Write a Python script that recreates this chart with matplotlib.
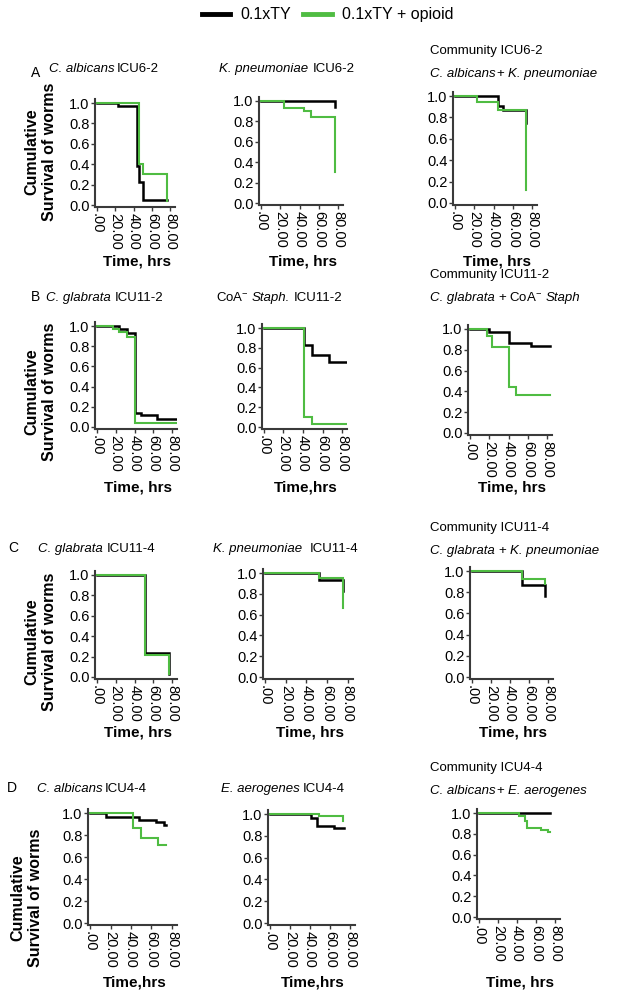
import matplotlib
matplotlib.use('Agg')
import matplotlib.pyplot as plt
from matplotlib.lines import Line2D

plt.rcParams['font.family'] = ['Liberation Sans', 'DejaVu Sans']
plt.rcParams['mathtext.fontset'] = 'custom'
plt.rcParams['mathtext.rm'] = 'Liberation Sans'
plt.rcParams['mathtext.it'] = 'Liberation Sans:italic'

# survival curves (time in hrs, cumulative survival), ctl = 0.1xTY, opi = 0.1xTY + opioid
a1_ctl_t = [0, 23, 44, 46, 50, 76]
a1_ctl_s = [1.0, 0.97, 0.38, 0.23, 0.05, 0.05]
a1_opi_t = [0, 46, 50, 76]
a1_opi_s = [1.0, 0.40, 0.30, 0.04]

a2_ctl_t = [0, 77]
a2_ctl_s = [1.0, 0.94]
a2_opi_t = [0, 24, 45, 52, 77]
a2_opi_s = [1.0, 0.93, 0.90, 0.84, 0.30]

a3_ctl_t = [0, 45, 50, 74]
a3_ctl_s = [1.0, 0.91, 0.87, 0.75]
a3_opi_t = [0, 23, 45, 74]
a3_opi_s = [1.0, 0.94, 0.87, 0.12]

b1_ctl_t = [0, 23, 32, 40, 47, 64, 84]
b1_ctl_s = [1.0, 0.97, 0.93, 0.14, 0.12, 0.08, 0.08]
b1_opi_t = [0, 17, 23, 32, 40, 84]
b1_opi_s = [1.0, 0.97, 0.94, 0.89, 0.04, 0.04]

b2_ctl_t = [0, 41, 49, 67, 85]
b2_ctl_s = [1.0, 0.83, 0.73, 0.66, 0.66]
b2_opi_t = [0, 41, 49, 85]
b2_opi_s = [1.0, 0.10, 0.03, 0.03]

b3_ctl_t = [0, 20, 40, 63, 83]
b3_ctl_s = [1.0, 0.97, 0.87, 0.84, 0.84]
b3_opi_t = [0, 18, 23, 40, 48, 83]
b3_opi_s = [1.0, 0.93, 0.83, 0.44, 0.37, 0.37]

c1_ctl_t = [0, 51, 77]
c1_ctl_s = [1.0, 0.24, 0.03]
c1_opi_t = [0, 51, 77]
c1_opi_s = [1.0, 0.22, 0.03]

c2_ctl_t = [0, 52, 75]
c2_ctl_s = [1.0, 0.93, 0.83]
c2_opi_t = [0, 52, 75]
c2_opi_s = [1.0, 0.95, 0.66]

c3_ctl_t = [0, 52, 77]
c3_ctl_s = [1.0, 0.87, 0.76]
c3_opi_t = [0, 52, 77]
c3_opi_s = [1.0, 0.92, 0.88]

d1_ctl_t = [0, 16, 48, 64, 72, 74]
d1_ctl_s = [1.0, 0.96, 0.94, 0.92, 0.89, 0.89]
d1_opi_t = [0, 42, 50, 66, 74]
d1_opi_s = [1.0, 0.86, 0.77, 0.71, 0.71]

d2_ctl_t = [0, 41, 47, 64, 74]
d2_ctl_s = [1.0, 0.96, 0.89, 0.87, 0.87]
d2_opi_t = [0, 49, 73]
d2_opi_s = [1.0, 0.98, 0.94]

d3_ctl_t = [0, 74]
d3_ctl_s = [1.0, 1.0]
d3_opi_t = [0, 42, 48, 50, 65, 72, 74]
d3_opi_s = [1.0, 0.97, 0.92, 0.86, 0.84, 0.82, 0.82]

x_ticks = [0, 20, 40, 60, 80]
x_ticklabels = ['.00', '20.00', '40.00', '60.00', '80.00']
y_ticks = [0.0, 0.2, 0.4, 0.6, 0.8, 1.0]
y_ticklabels = ['0.0', '0.2', '0.4', '0.6', '0.8', '1.0']
series_names = ['0.1xTY', '0.1xTY + opioid']

# title pieces: (text, style, gap after in spaces); a list per line
I, N = 'italic', 'normal'
titles = {
    'a1': [[('C. albicans', I, 0.6), ('ICU6-2', N, 0)]],
    'a2': [[('K. pneumoniae', I, 1.3), ('ICU6-2', N, 0)]],
    'a3': [[('Community ICU6-2', N, 0)],
           [('C. albicans', I, 0.3), ('+', N, 1), ('K. pneumoniae', I, 0)]],
    'b1': [[('C. glabrata', I, 1.1), ('ICU11-2', N, 0)]],
    'b2': [[('CoA$^{-}$', N, 0.8), ('Staph.', I, 1.1), ('ICU11-2', N, 0)]],
    'b3': [[('Community ICU11-2', N, 0)],
           [('C. glabrata', I, 1.0), ('+ CoA$^{-}$', N, 0.8), ('Staph', I, 0)]],
    'c1': [[('C. glabrata', I, 1.1), ('ICU11-4', N, 0)]],
    'c2': [[('K. pneumoniae', I, 2.0), ('ICU11-4', N, 0)]],
    'c3': [[('Community ICU11-4', N, 0)],
           [('C. glabrata', I, 1.0), ('+', N, 1), ('K. pneumoniae', I, 0)]],
    'd1': [[('C. albicans', I, 0.6), ('ICU4-4', N, 0)]],
    'd2': [[('E. aerogenes', I, 0.9), ('ICU4-4', N, 0)]],
    'd3': [[('Community ICU4-4', N, 0)],
           [('C. albicans', I, 0.3), ('+', N, 1), ('E. aerogenes', I, 0)]],
}
xlabels = {'a1': 'Time, hrs', 'a2': 'Time, hrs', 'a3': 'Time, hrs',
           'b1': 'Time, hrs', 'b2': 'Time,hrs', 'b3': 'Time, hrs',
           'c1': 'Time, hrs', 'c2': 'Time, hrs', 'c3': 'Time, hrs',
           'd1': 'Time,hrs', 'd2': 'Time,hrs', 'd3': 'Time, hrs'}

data = {
    'a1': (a1_ctl_t, a1_ctl_s, a1_opi_t, a1_opi_s),
    'a2': (a2_ctl_t, a2_ctl_s, a2_opi_t, a2_opi_s),
    'a3': (a3_ctl_t, a3_ctl_s, a3_opi_t, a3_opi_s),
    'b1': (b1_ctl_t, b1_ctl_s, b1_opi_t, b1_opi_s),
    'b2': (b2_ctl_t, b2_ctl_s, b2_opi_t, b2_opi_s),
    'b3': (b3_ctl_t, b3_ctl_s, b3_opi_t, b3_opi_s),
    'c1': (c1_ctl_t, c1_ctl_s, c1_opi_t, c1_opi_s),
    'c2': (c2_ctl_t, c2_ctl_s, c2_opi_t, c2_opi_s),
    'c3': (c3_ctl_t, c3_ctl_s, c3_opi_t, c3_opi_s),
    'd1': (d1_ctl_t, d1_ctl_s, d1_opi_t, d1_opi_s),
    'd2': (d2_ctl_t, d2_ctl_s, d2_opi_t, d2_opi_s),
    'd3': (d3_ctl_t, d3_ctl_s, d3_opi_t, d3_opi_s),
}

# layout in pixels: left, right, y of 1.0, y of 0.0
W, H = 637, 996
boxes = {
    'a1': (95, 175, 103, 205), 'a2': (259, 343, 101, 203), 'a3': (453, 537, 96, 203),
    'b1': (95, 177, 326, 427), 'b2': (262, 347, 328, 427), 'b3': (468, 552, 329, 433),
    'c1': (95, 177, 575, 677), 'c2': (263, 353, 573, 677), 'c3': (470, 553, 571, 677),
    'd1': (88, 177, 813, 923), 'd2': (268, 355, 814, 923), 'd3': (477, 560, 813, 917),
}
# title: (x, y of first line, ha)
title_pos = {
    'a1': (104, 68, 'center'), 'a2': (287, 68, 'center'), 'a3': (430, 50, 'left'),
    'b1': (105, 297, 'center'), 'b2': (279, 297, 'center'), 'b3': (430, 274, 'left'),
    'c1': (97, 548, 'center'), 'c2': (286, 548, 'center'), 'c3': (430, 527, 'left'),
    'd1': (92, 788, 'center'), 'd2': (283, 788, 'center'), 'd3': (430, 767, 'left'),
}
title_size = 9.5
line_step = 23
xlabel_y = {'a': 262, 'b': 487, 'c': 732, 'd': 982}
ylabel_pos = {'a': (41, 152), 'b': (41, 392), 'c': (41, 642), 'd': (27, 898)}
row_labels = {'A': (36, 73), 'B': (36, 297), 'C': (13, 548), 'D': (12, 788)}

black = '#000000'
green = '#4fbc42'
spine_col = '#3a3a3a'

fig = plt.figure(figsize=(W / 100, H / 100), dpi=100)
renderer = fig.canvas.get_renderer()


def text_width(s, style):
    t = fig.text(0, 0, s, fontsize=title_size, fontstyle=style)
    w = t.get_window_extent(renderer).width
    t.remove()
    return w


space_w = text_width('x x', N) - text_width('xx', N)


def rich_line(x, y, pieces, ha):
    widths = [text_width(s, st) for s, st, g in pieces]
    total = sum(widths) + sum(g * space_w for s, st, g in pieces)
    cx = x - total / 2 if ha == 'center' else x
    for (s, st, g), w in zip(pieces, widths):
        fig.text(cx / W, 1 - y / H, s, fontsize=title_size, fontstyle=st,
                 ha='left', va='baseline')
        cx += w + g * space_w


for key, (l, r, y1, y0) in boxes.items():
    u = y0 - y1
    top = y1 - 0.04 * u
    bot = y0 + 0.02 * u
    ax = fig.add_axes([l / W, 1 - bot / H, (r - l) / W, (bot - top) / H])
    ct, cs, ot, os_ = data[key]
    ax.plot(ct, cs, drawstyle='steps-post', color=black, lw=1.8, solid_joinstyle='miter')
    ax.plot(ot, os_, drawstyle='steps-post', color=green, lw=1.5, solid_joinstyle='miter')
    ax.set_xlim(-2, 85)
    ax.set_ylim(-0.02, 1.04)
    ax.set_xticks(x_ticks)
    ax.set_xticklabels(x_ticklabels, rotation=270, fontsize=10.5)
    ax.set_yticks(y_ticks)
    ax.set_yticklabels(y_ticklabels, fontsize=10.5)
    ax.tick_params(length=3, width=1, pad=1, color=spine_col)
    for s in ['top', 'right']:
        ax.spines[s].set_visible(False)
    for s in ['left', 'bottom']:
        ax.spines[s].set_color(spine_col)
        ax.spines[s].set_linewidth(1.5)

    tx, ty, ha = title_pos[key]
    for i, line in enumerate(titles[key]):
        rich_line(tx, ty + 4 + i * line_step, line, ha)
    fig.text((l + (r - l) * 0.52) / W, 1 - xlabel_y[key[0]] / H, xlabels[key],
             ha='center', va='center', fontsize=11, fontweight='bold')

for row, (x, y) in ylabel_pos.items():
    fig.text(x / W, 1 - y / H, 'Cumulative\nSurvival of worms', rotation=90,
             ha='center', va='center', multialignment='center',
             fontsize=11.5, fontweight='bold')

for lab, (x, y) in row_labels.items():
    fig.text(x / W, 1 - y / H, lab, ha='center', va='center', fontsize=10)

handles = [Line2D([], [], color=black, lw=3.5), Line2D([], [], color=green, lw=3.5)]
fig.legend(handles, series_names, loc='upper center', bbox_to_anchor=(0.514, 1.007),
           ncol=2, frameon=False, fontsize=11.5, handlelength=1.8, columnspacing=0.8,
           handletextpad=0.6)

fig.savefig('out.png', dpi=100)
